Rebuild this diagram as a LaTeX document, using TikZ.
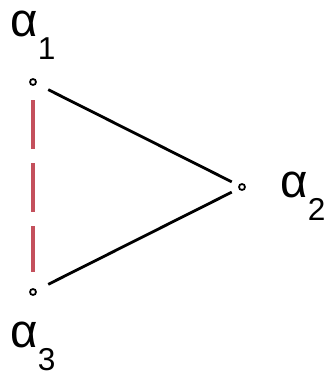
\documentclass[tikz,border=0pt]{standalone}
\usepackage{fontspec}
\setmainfont{Liberation Sans}
\usetikzlibrary{positioning}
\definecolor{dashRed}{HTML}{C4505C}
\tikzset{
    vertex/.style={circle,draw=black,line width=1pt,fill=white,inner sep=0pt,
        minimum size=0.12cm},
    edge/.style={draw=black,line width=1.6pt,shorten <=0.34cm,shorten >=0.23cm},
    dashedge/.style={draw=dashRed,line width=2.4pt,dash pattern=on 0.98cm off 0.28cm,
        shorten <=0.36cm,shorten >=0.4cm},
    rootlabel/.style={inner sep=0pt,anchor=base west,font=\fontsize{27}{27}\selectfont}
}
\newcommand{\rootname}[1]{α\raisebox{-0.5em}{\fontsize{18}{18}\selectfont #1}}

\begin{document}
\begin{tikzpicture}
        \useasboundingbox (0,0) rectangle (6.54,7.52);
        \node[vertex] (rootone) at (0.66,5.88) {};
        \node[vertex] (roottwo) at (4.84,3.78) {};
        \node[vertex] (rootthree) at (0.66,1.68) {};
        \node[rootlabel] (labelone) at (0.20,6.80) {\rootname{1}};
        \node[rootlabel] (labeltwo) at (5.60,3.58) {\rootname{2}};
        \node[rootlabel] (labelthree) at (0.20,0.58) {\rootname{3}};
        \draw[edge] (rootone.center) -- (roottwo.center);
        \draw[edge] (rootthree.center) -- (roottwo.center);
        \draw[dashedge] (rootone.center) -- (rootthree.center);
    \end{tikzpicture}
\end{document}
